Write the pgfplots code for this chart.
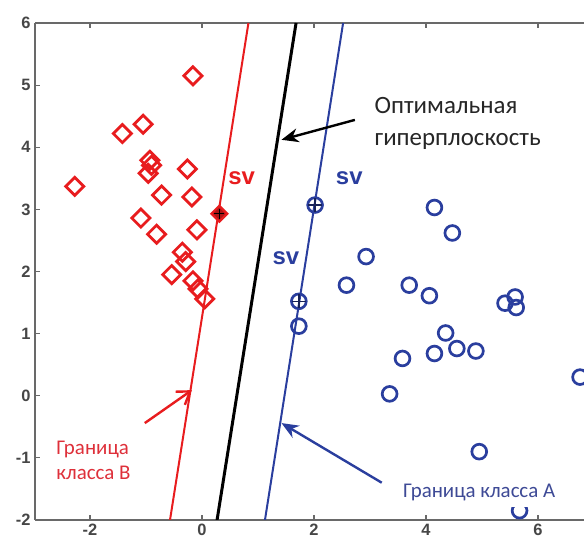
\documentclass[border=0pt]{standalone}
\usepackage{fontspec}
\setmainfont{Liberation Sans}
\newfontfamily\calfont{Carlito}
\usepackage{pgfplots}
\pgfplotsset{compat=1.18}
\usetikzlibrary{arrows.meta}

\definecolor{clsB}{RGB}{232,28,30}
\definecolor{clsA}{RGB}{42,62,158}
\definecolor{txtB}{RGB}{222,48,58}
\definecolor{txtA}{RGB}{62,74,150}
\definecolor{axgray}{RGB}{105,105,105}
\definecolor{lblgray}{RGB}{70,70,70}

% class B samples (diamonds)
\pgfplotstableread{
x y
-0.16 5.15
-1.42 4.22
-1.05 4.37
-0.93 3.79
-0.90 3.71
-0.96 3.58
-2.27 3.37
-0.26 3.65
-0.72 3.23
-0.18 3.20
-1.09 2.86
-0.81 2.60
-0.09 2.67
-0.35 2.31
-0.29 2.16
-0.54 1.95
-0.16 1.85
-0.07 1.72
0.05 1.56
}\classB

% class A samples (circles)
\pgfplotstableread{
x y
4.15 3.03
4.47 2.62
2.93 2.24
2.58 1.78
3.70 1.78
4.06 1.61
5.59 1.59
5.41 1.49
5.61 1.42
1.73 1.12
4.35 1.01
4.55 0.76
4.89 0.72
4.15 0.68
3.58 0.60
3.35 0.03
6.75 0.30
4.95 -0.90
5.67 -1.85
}\classA

\begin{document}
\begin{tikzpicture}
\begin{axis}[
  set layers,
  scale only axis,
  width=549bp, height=497bp,
  xmin=-2.98, xmax=6.82, ymin=-2, ymax=6,
  axis x line*=box, axis y line*=left,
  tick align=inside,
  major tick length=5bp,
  xtick={-2,0,2,4,6}, xticklabels={-2,0,2,4,6},
  ytick={-2,-1,0,1,2,3,4,5,6}, yticklabels={-2,-1,0,1,2,3,4,5,6},
  axis line style={axgray, line width=1.6bp},
  every tick/.style={axgray, line width=1.2bp},
  ticklabel style={font=\fontsize{16.5}{18}\selectfont\bfseries, text=lblgray},
  xticklabel style={yshift=-1bp},
  yticklabel style={xshift=-1bp},
]
\coordinate (SW) at (rel axis cs:0,0);
\coordinate (NE) at (rel axis cs:1,1);

% class boundaries and separating hyperplane
\addplot[clsB, line width=2bp] coordinates {(-0.57,-2) (0.83,6)};
\addplot[black, line width=3bp] coordinates {(0.27,-2) (1.68,6)};
\addplot[clsA, line width=2bp] coordinates {(1.125,-2) (2.52,6)};

% samples
\addplot[only marks, mark=square, mark size=6.4bp,
  mark options={rotate=45, clsB, line width=2.8bp}] table {\classB};
\addplot[only marks, mark=o, mark size=7.4bp,
  mark options={clsA, line width=2.7bp}] table {\classA};

% support vectors
\addplot[only marks, mark=square*, mark size=5.6bp,
  mark options={rotate=45, draw=clsB, fill=clsB!75!black, line width=2.2bp}]
  coordinates {(0.31,2.93)};
\addplot[only marks, mark=+, mark size=5bp,
  mark options={black, line width=1.5bp}] coordinates {(0.31,2.93)};
\addplot[only marks, mark=o, mark size=7.4bp,
  mark options={clsA, line width=2.7bp}] coordinates {(2.02,3.07) (1.73,1.52)};
\addplot[only marks, mark=+, mark size=7bp,
  mark options={clsA!55!black, line width=1.5bp}] coordinates {(2.02,3.07) (1.73,1.52)};

% annotations
\node[clsB, font=\fontsize{24}{24}\selectfont\bfseries] at (axis cs:0.71,3.50) {sv};
\node[clsA, font=\fontsize{24}{24}\selectfont\bfseries] at (axis cs:2.63,3.50) {sv};
\node[clsA, font=\fontsize{24}{24}\selectfont\bfseries] at (axis cs:1.50,2.22) {sv};

\draw[black, line width=2.4bp, -{Stealth[length=17bp, width=14bp]}]
  (axis cs:2.73,4.44) -- (axis cs:1.42,4.12);
\draw[clsB, line width=2.4bp, -{Straight Barb[length=12bp, width=16bp, line width=2.4bp]}]
  (axis cs:-1.02,-0.44) -- (axis cs:-0.18,0.09);
\draw[clsA, line width=2.4bp, -{Stealth[length=17bp, width=14bp]}]
  (axis cs:3.21,-1.40) -- (axis cs:1.42,-0.44);

\node[anchor=west, align=left, text=black!85, font=\calfont\fontsize{25}{32}\selectfont]
  at (axis cs:3.02,4.38) {Оптимальная\\гиперплоскость};
\node[anchor=west, align=left, text=txtB, font=\calfont\fontsize{21}{26}\selectfont]
  at (axis cs:-2.66,-1.04) {Граница\\класса В};
\begin{pgfonlayer}{axis foreground}
\node[anchor=west, text=txtA, fill=white, inner ysep=7bp, font=\calfont\fontsize{21}{26}\selectfont]
  at (axis cs:3.53,-1.55) {Граница класса А};
\end{pgfonlayer}
\end{axis}
\pgfresetboundingbox
\path[use as bounding box] ([xshift=-35bp,yshift=-24bp]SW) rectangle ([yshift=23bp]NE);
\end{tikzpicture}
\end{document}
